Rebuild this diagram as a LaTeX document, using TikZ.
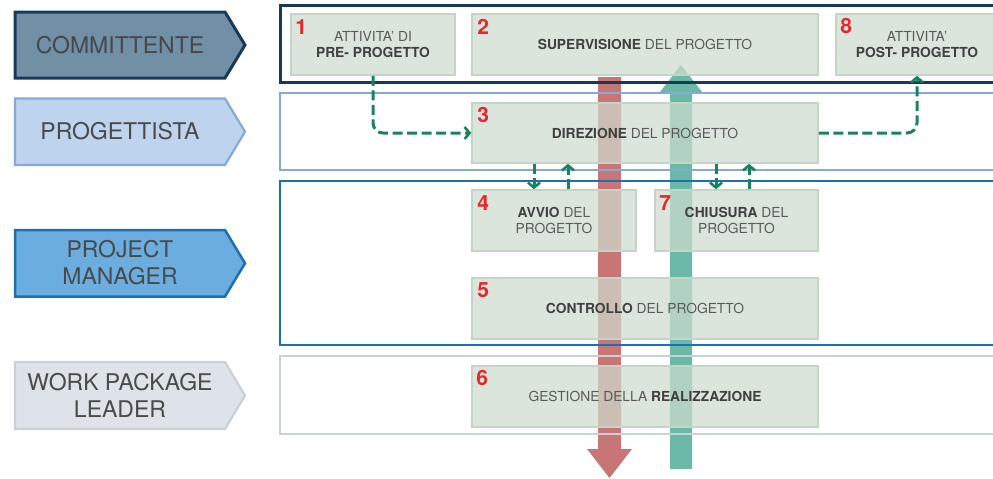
\documentclass[tikz,border=0pt]{standalone}
\usepackage{fontspec}
\setmainfont{TeX Gyre Heros}
\usetikzlibrary{arrows.meta,calc}
\definecolor{comfill}{HTML}{7190A5}
\definecolor{comline}{HTML}{173A5A}
\definecolor{profill}{HTML}{BED4EE}
\definecolor{proline}{HTML}{86AAD8}
\definecolor{pmfill}{HTML}{6BADDE}
\definecolor{pmline}{HTML}{1C6FB0}
\definecolor{wpfill}{HTML}{DDE3E8}
\definecolor{wpline}{HTML}{C9D1D7}
\definecolor{boxfill}{HTML}{CDDBCE}
\definecolor{boxline}{HTML}{C3D5C6}
\definecolor{redarr}{HTML}{C87575}
\definecolor{grnarr}{HTML}{6BB8A6}
\definecolor{dgreen}{HTML}{17855A}
\definecolor{numred}{HTML}{E8262B}
\definecolor{txt}{HTML}{5A5A5A}
\definecolor{txtb}{HTML}{404040}
\definecolor{labtxt}{HTML}{4A4A4A}
\newcommand\boldpart[1]{{\bfseries\color{txtb}#1}}
\begin{document}
\begin{tikzpicture}[x=1pt,y=-1pt,
  box/.style={draw=boxline, line width=1.5pt, fill=boxfill, fill opacity=0.72, text opacity=1,
    minimum height=61pt, inner sep=0pt, align=center, text=txt,
    font=\fontsize{13.8}{16}\selectfont},
  num/.style={text=numred, inner sep=0pt, font=\fontsize{21}{21}\bfseries\selectfont},
  lab/.style={text=labtxt, inner sep=0pt, align=center, font=\fontsize{23}{27}\selectfont},
  darr/.style={draw=dgreen, line width=3pt, dash pattern=on 10pt off 4.5pt,
    -{Straight Barb[length=5pt,width=12pt,line width=2.6pt]}},
  lane/.style={line width=2.2pt}
]
\useasboundingbox (0,0) rectangle (993,479);
\clip (0,0) rectangle (993,479);

% left role labels
\draw[fill=comfill, draw=comline, line width=3pt] (15,12) -- (225,12) -- (245,45) -- (225,78) -- (15,78) -- cycle;
\node[lab, text=labtxt!90!comline] (lcom) at (120,45) {COMMITTENTE};
\draw[fill=profill, draw=proline, line width=2.2pt] (15,98.5) -- (225,98.5) -- (245,131.75) -- (225,165) -- (15,165) -- cycle;
\node[lab] (lpro) at (120,131.5) {PROGETTISTA};
\draw[fill=pmfill, draw=pmline, line width=2.5pt] (15,230) -- (225,230) -- (245,263.25) -- (225,296.5) -- (15,296.5) -- cycle;
\node[lab] (lpm) at (120,263) {PROJECT\\MANAGER};
\draw[fill=wpfill, draw=wpline, line width=2.2pt] (15,362) -- (225,362) -- (245,395.5) -- (225,429) -- (15,429) -- cycle;
\node[lab] (lwp) at (120,395.5) {WORK PACKAGE\\LEADER};

% big arrows
\fill[redarr] (598,77) -- (621,77) -- (621,449) -- (632,449) -- (609.5,478) -- (587,449) -- (598,449) -- cycle;
\fill[grnarr] (670,469) -- (692,469) -- (692,92) -- (702,92) -- (681,65) -- (660,92) -- (670,92) -- cycle;

% lanes
\draw[lane, draw=comline, line width=3pt] (1010,5) -- (280,5) -- (280,82) -- (1010,82);
\draw[lane, draw=proline] (1010,93) -- (280,93) -- (280,170) -- (1010,170);
\draw[lane, draw=pmline, line width=2.5pt] (1010,181) -- (280,181) -- (280,345) -- (1010,345);
\draw[lane, draw=wpline, line width=2.5pt] (1010,356) -- (280,356) -- (280,434) -- (1010,434);

% boxes
\node[box, minimum width=164pt] (box1) at (373,44.5) {ATTIVITA' DI\\\boldpart{PRE- PROGETTO}};
\node[box, minimum width=346pt] (box2) at (645,44.5) {\boldpart{SUPERVISIONE} DEL PROGETTO};
\node[box, minimum width=162pt] (box8) at (917,44.5) {ATTIVITA'\\\boldpart{POST- PROGETTO}};
\node[box, minimum width=346pt, minimum height=60pt] (box3) at (645,133) {\boldpart{DIREZIONE} DEL PROGETTO};
\node[box, minimum width=164pt] (box4) at (554,220.5) {\boldpart{AVVIO} DEL\\PROGETTO};
\node[box, minimum width=163pt] (box7) at (736.5,220.5) {\boldpart{CHIUSURA} DEL\\PROGETTO};
\node[box, minimum width=346pt] (box5) at (645,308.5) {\boldpart{CONTROLLO} DEL PROGETTO};
\node[box, minimum width=346pt] (box6) at (645,396.5) {GESTIONE DELLA \boldpart{REALIZZAZIONE}};

% numbers
\node[num] (n1) at ($(box1.north west)+(11,13.5)$) {1};
\node[num] (n2) at ($(box2.north west)+(12,13.5)$) {2};
\node[num] (n8) at ($(box8.north west)+(11,13)$) {8};
\node[num] (n3) at ($(box3.north west)+(12,13)$) {3};
\node[num] (n4) at ($(box4.north west)+(12,13.5)$) {4};
\node[num] (n7) at ($(box7.north west)+(11,13.5)$) {7};
\node[num] (n5) at ($(box5.north west)+(12,13)$) {5};
\node[num] (n6) at ($(box6.north west)+(11,13)$) {6};

% dashed connectors
\draw[darr, rounded corners=10pt] (box1.south) |- (box3.west);
\draw[darr, rounded corners=10pt] (box3.east) -| (box8.south);
\coordinate (a4d) at ($(box4.north)+(-20,0)$);
\coordinate (a4u) at ($(box4.north)+(14,0)$);
\coordinate (a7d) at ($(box7.north)+(-20.5,0)$);
\coordinate (a7u) at ($(box7.north)+(12.5,0)$);
\draw[darr] (a4d |- box3.south) -- (a4d);
\draw[darr] (a4u) -- (a4u |- box3.south);
\draw[darr] (a7d |- box3.south) -- (a7d);
\draw[darr] (a7u) -- (a7u |- box3.south);
\end{tikzpicture}
\end{document}
